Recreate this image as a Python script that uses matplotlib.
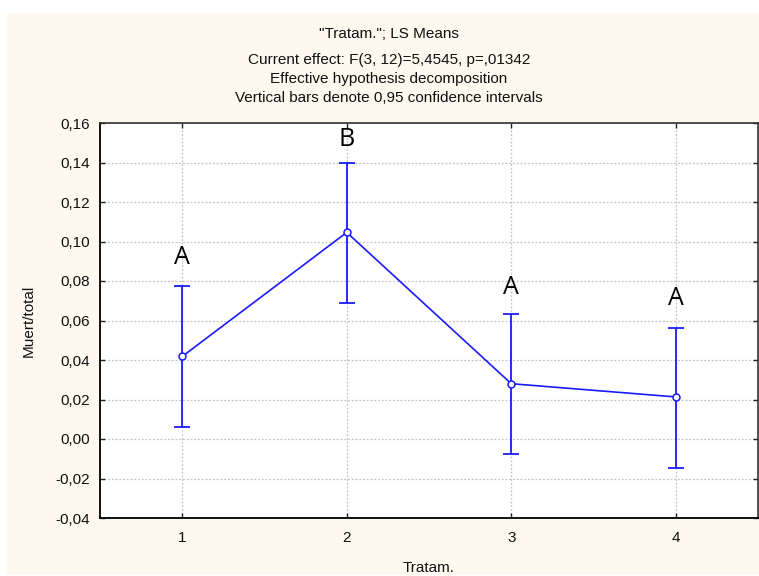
import matplotlib
matplotlib.use("Agg")
import matplotlib.pyplot as plt
from matplotlib.patches import Rectangle
from matplotlib.ticker import FuncFormatter

# LS means per treatment with 0.95 confidence limits
treatments = [1, 2, 3, 4]
means = [0.0418, 0.1046, 0.0280, 0.0213]
lower = [0.0063, 0.0687, -0.0077, -0.0147]
upper = [0.0773, 0.1396, 0.0634, 0.0563]

# Grouping letters above each treatment
letters = ["A", "B", "A", "A"]
letter_y = [0.0888, 0.1485, 0.0736, 0.0681]

yticks = [-0.04, -0.02, 0.00, 0.02, 0.04, 0.06, 0.08, 0.10, 0.12, 0.14, 0.16]

title_lines = [
    '"Tratam."; LS Means',
    "Current effect: F(3, 12)=5,4545, p=,01342",
    "Effective hypothesis decomposition",
    "Vertical bars denote 0,95 confidence intervals",
]

W, H = 759, 576
plt.rcParams["font.family"] = ["Liberation Sans", "DejaVu Sans"]
fig = plt.figure(figsize=(W / 100, H / 100), dpi=100, facecolor="white")

cream = "#fdf9ee"
fig.patches.append(Rectangle((7 / W, 1 / H), (W - 7) / W, (H - 14) / H,
                             transform=fig.transFigure, facecolor=cream,
                             edgecolor="none", zorder=-10))

ax = fig.add_axes([100 / W, 1 - 518 / H, 658 / W, 395 / H])
ax.set_facecolor("white")

blue = "#1a1aff"
err_lo = [m - l for m, l in zip(means, lower)]
err_hi = [u - m for m, u in zip(means, upper)]
ax.errorbar(treatments, means, yerr=[err_lo, err_hi], fmt="none",
            ecolor=blue, elinewidth=1.3, capsize=6, capthick=1.3, zorder=3)
ax.plot(treatments, means, color=blue, lw=1.2, marker="o", markersize=5,
        markerfacecolor="white", markeredgecolor=blue, markeredgewidth=1.1,
        zorder=4)

for x, y, s in zip(treatments, letter_y, letters):
    ax.text(x, y, s, ha="center", va="baseline", fontsize=18,
            family=["Open Sans", "DejaVu Sans"], color="black", zorder=5)

ax.set_xlim(0.5, 4.5)
ax.set_ylim(-0.04, 0.16)
ax.set_xticks(treatments)
ax.set_yticks(yticks)
ax.yaxis.set_major_formatter(FuncFormatter(lambda v, p: f"{v:.2f}".replace(".", ",")))

ax.grid(True, color="#c4c4c4", linestyle=(0, (1.5, 1.5)), linewidth=0.9)
ax.set_axisbelow(True)
ax.tick_params(direction="in", length=3.5, width=1, color="#222222",
               top=True, right=True, labelsize=11, labelcolor="#111111")
ax.tick_params(axis="y", pad=7)
ax.tick_params(axis="x", pad=9)
for side in ["left", "bottom"]:
    ax.spines[side].set_linewidth(1.4)
    ax.spines[side].set_color("#111111")
for side in ["right", "top"]:
    ax.spines[side].set_linewidth(1.2)
    ax.spines[side].set_color("#333333")

ax.set_xlabel("Tratam.", fontsize=11, color="#111111")
ax.xaxis.set_label_coords(0.5, -0.108)
ax.set_ylabel("Muert/total", fontsize=11, color="#111111")
ax.yaxis.set_label_coords(-0.098, 0.5)

for ypix, line in zip([34, 60, 79, 98], title_lines):
    fig.text(389 / W, 1 - ypix / H, line, ha="center", va="center",
             fontsize=11, color="#111111")

fig.savefig("out.png", dpi=100, facecolor=fig.get_facecolor())
